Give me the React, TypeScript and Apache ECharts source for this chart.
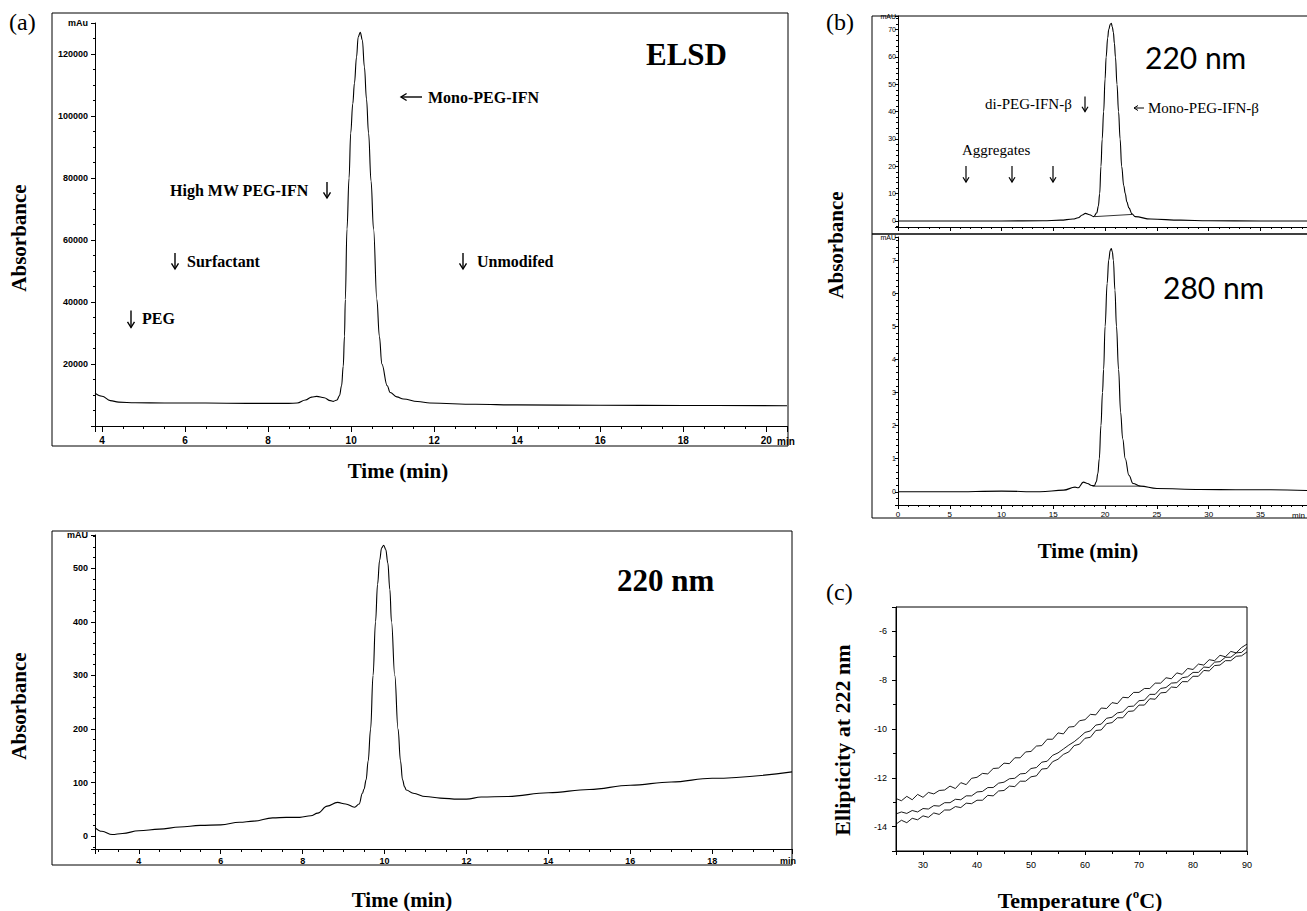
import React, { useEffect, useRef } from "react";
import * as echarts from "echarts";

// ---------- Panel (a) top: ELSD ----------
const elsdTime = [3.83, 4.0, 4.2, 4.4, 4.8, 5.5, 6.5, 7.5, 8.5, 8.7, 8.9, 9.05, 9.17, 9.35, 9.5, 9.57, 9.66, 9.72, 9.77, 9.81, 9.84, 9.86, 9.9, 9.95, 9.99, 10.04, 10.08, 10.13, 10.17, 10.22, 10.27, 10.32, 10.37, 10.42, 10.48, 10.54, 10.62, 10.68, 10.74, 10.87, 10.94, 11.1, 11.26, 11.6, 11.9, 13.0, 14.0, 16.0, 18.0, 20.5];
const elsdSignal = [10600, 9600, 8200, 7700, 7500, 7400, 7400, 7300, 7300, 7400, 8400, 9300, 9560, 9100, 8200, 7950, 8400, 9800, 13000, 19300, 29000, 40800, 63500, 80000, 94500, 104000, 110600, 119000, 125500, 127000, 124500, 115800, 105500, 94500, 79000, 63500, 40800, 29000, 20000, 13000, 10800, 9400, 8700, 7900, 7400, 7000, 6800, 6700, 6600, 6550];

// ---------- Panel (a) bottom: 220 nm ----------
const uvTime = [2.93, 3.1, 3.35, 3.6, 4.0, 4.5, 5.0, 5.5, 6.0, 6.46, 6.8, 7.27, 7.6, 7.93, 8.2, 8.37, 8.6, 8.85, 9.05, 9.27, 9.38, 9.46, 9.5, 9.55, 9.6, 9.66, 9.72, 9.78, 9.83, 9.88, 9.93, 9.98, 10.03, 10.08, 10.13, 10.17, 10.25, 10.33, 10.39, 10.44, 10.49, 10.53, 10.7, 11.0, 11.36, 11.8, 12.0, 12.36, 13.0, 14.0, 15.0, 16.0, 17.0, 18.0, 19.95];
const uvSignal = [16, 9, 3, 5, 10, 13, 17, 20, 21, 26, 28, 34, 35, 35, 38, 43, 56, 63, 60, 54, 60, 80, 88, 105, 140, 200, 300, 400, 470, 515, 538, 543, 535, 510, 460, 400, 300, 200, 140, 105, 92, 86, 80, 74, 71, 69, 69, 73, 74, 81, 87, 95, 101, 108, 120];

// ---------- Panel (b) top: 220 nm ----------
const b220Time = [0, 5, 10, 14, 15.7, 16.9, 17.4, 17.8, 18.1, 18.5, 18.9, 19.2, 19.35, 19.48, 19.6, 19.72, 19.86, 20.0, 20.1, 20.25, 20.35, 20.5, 20.6, 20.7, 20.8, 20.9, 21.0, 21.15, 21.3, 21.45, 21.6, 21.8, 21.95, 22.1, 22.3, 22.6, 22.9, 24.4, 27.3, 30, 35, 39.5];
const b220Signal = [0, 0, 0, 0.1, 0.3, 0.7, 1.2, 2.2, 2.8, 2.3, 1.6, 3, 5.5, 10, 20, 30, 40, 52, 60, 67, 70, 72, 72.3, 71, 69, 65, 60, 50, 40, 30, 20, 13, 10, 7, 4.8, 2.6, 1.6, 0.7, 0.3, 0.1, 0, 0];
const b220BaseTime = [19.0, 22.6];
const b220BaseSignal = [1.6, 2.4];

// ---------- Panel (b) bottom: 280 nm ----------
const b280Time = [0, 5, 10, 13.7, 16, 17.1, 17.4, 17.9, 18.3, 18.7, 18.95, 19.15, 19.3, 19.44, 19.6, 19.75, 19.86, 20.0, 20.2, 20.35, 20.5, 20.6, 20.7, 20.8, 20.95, 21.1, 21.3, 21.5, 21.7, 21.95, 22.3, 22.7, 23.4, 25, 29.2, 33, 36, 39.5];
const b280Signal = [0, 0, 0.02, 0, 0.05, 0.14, 0.12, 0.29, 0.25, 0.19, 0.18, 0.3, 0.55, 1, 2, 3, 3.7, 5, 6.3, 7, 7.3, 7.35, 7.25, 7, 6.1, 5, 3.7, 2.4, 1.6, 1, 0.5, 0.25, 0.17, 0.1, 0.07, 0.06, 0.06, 0.04];
const b280BaseTime = [18.8, 23.4];
const b280BaseSignal = [0.17, 0.17];

// ---------- Panel (c): CD melting ----------
const cdTemp = [25, 26, 27, 28, 29, 30, 31, 32, 33, 34, 35, 36, 37, 38, 39, 40, 41, 42, 43, 44, 45, 46, 47, 48, 49, 50, 51, 52, 53, 54, 55, 56, 57, 58, 59, 60, 61, 62, 63, 64, 65, 66, 67, 68, 69, 70, 71, 72, 73, 74, 75, 76, 77, 78, 79, 80, 81, 82, 83, 84, 85, 86, 87, 88, 89, 90];
const cdRun1 = [-12.85, -12.94, -12.76, -12.9, -12.68, -12.8, -12.6, -12.66, -12.52, -12.5, -12.34, -12.44, -12.2, -12.28, -12.02, -11.98, -11.82, -11.84, -11.62, -11.6, -11.4, -11.42, -11.18, -11.18, -10.94, -10.92, -10.7, -10.68, -10.42, -10.42, -10.16, -10.2, -9.92, -9.9, -9.66, -9.62, -9.4, -9.42, -9.14, -9.16, -8.92, -8.96, -8.7, -8.72, -8.5, -8.5, -8.34, -8.34, -8.12, -8.12, -7.9, -7.94, -7.7, -7.76, -7.52, -7.56, -7.34, -7.38, -7.16, -7.2, -6.98, -7.04, -6.82, -6.88, -6.66, -6.52];
const cdRun2 = [-13.48, -13.4, -13.46, -13.34, -13.4, -13.26, -13.28, -13.14, -13.16, -13.02, -13.02, -12.88, -12.9, -12.74, -12.74, -12.58, -12.56, -12.4, -12.4, -12.22, -12.18, -12.04, -12.02, -11.84, -11.82, -11.62, -11.58, -11.36, -11.32, -11.08, -10.98, -10.82, -10.66, -10.52, -10.34, -10.14, -10.08, -9.84, -9.8, -9.56, -9.52, -9.34, -9.3, -9.08, -9.06, -8.84, -8.82, -8.58, -8.58, -8.34, -8.3, -8.12, -8.1, -7.9, -7.86, -7.68, -7.68, -7.46, -7.48, -7.26, -7.24, -7.06, -7.06, -6.88, -6.86, -6.66];
const cdRun3 = [-13.9, -13.74, -13.84, -13.66, -13.72, -13.56, -13.62, -13.44, -13.5, -13.32, -13.32, -13.18, -13.22, -13.04, -13.06, -12.92, -12.92, -12.72, -12.74, -12.54, -12.52, -12.34, -12.36, -12.14, -12.14, -11.96, -11.92, -11.64, -11.62, -11.34, -11.24, -11.04, -10.94, -10.68, -10.62, -10.38, -10.34, -10.06, -10.04, -9.78, -9.74, -9.54, -9.54, -9.28, -9.26, -9.02, -9.02, -8.76, -8.78, -8.52, -8.5, -8.28, -8.3, -8.06, -8.06, -7.84, -7.84, -7.6, -7.62, -7.4, -7.38, -7.2, -7.2, -7.02, -7.0, -6.84];

const zip = (xs: number[], ys: number[]) => xs.map((x, i) => [x, ys[i]]);

const SERIF = '"Liberation Serif", "Times New Roman", serif';
const NARROW = '"Liberation Sans Narrow", "Liberation Sans", Arial, sans-serif';
const SANS = '"Liberation Sans", Arial, sans-serif';

function axis(extra: any) {
  const base: any = {
    type: "value",
    axisLine: { show: true, onZero: false, lineStyle: { color: "#000", width: 1 } },
    axisTick: { show: true, lineStyle: { color: "#000", width: 1 } },
    minorTick: { show: true, lineStyle: { color: "#000", width: 1 } },
    splitLine: { show: false },
    minorSplitLine: { show: false },
    axisLabel: { color: "#000" },
  };
  const out: any = { ...base, ...extra };
  out.axisLine = { ...base.axisLine, ...(extra.axisLine || {}) };
  out.axisTick = { ...base.axisTick, ...(extra.axisTick || {}) };
  out.minorTick = { ...base.minorTick, ...(extra.minorTick || {}) };
  out.axisLabel = { ...base.axisLabel, ...(extra.axisLabel || {}) };
  return out;
}

function txt(text: string, x: number, y: number, font: string, align = "left", rotation = 0) {
  return {
    type: "text",
    x,
    y,
    rotation,
    z: 100,
    style: {
      text,
      font,
      fill: "#000",
      align,
      verticalAlign: "middle",
      textAlign: align,
      textVerticalAlign: "middle",
    },
  };
}

function frame(x: number, y: number, w: number, h: number) {
  return {
    type: "rect",
    shape: { x, y, width: w, height: h },
    style: { fill: "none", stroke: "#000", lineWidth: 1 },
    z: 90,
  };
}

function line(x1: number, y1: number, x2: number, y2: number, w = 1) {
  return {
    type: "line",
    shape: { x1, y1, x2, y2 },
    style: { stroke: "#000", lineWidth: w },
    z: 90,
  };
}

// drawn arrow glyphs (shaft + open head)
function downArrow(x: number, y: number, len = 16, head = 3.5, w = 1.3) {
  return {
    type: "group",
    children: [
      { type: "line", shape: { x1: x, y1: y - len / 2, x2: x, y2: y + len / 2 }, style: { stroke: "#000", lineWidth: w } },
      {
        type: "polyline",
        shape: { points: [[x - head, y + len / 2 - head * 1.6], [x, y + len / 2], [x + head, y + len / 2 - head * 1.6]] },
        style: { stroke: "#000", lineWidth: w, fill: "none" },
      },
    ],
    z: 100,
  };
}

function leftArrow(x: number, y: number, len = 20, head = 3.5, w = 1.3) {
  return {
    type: "group",
    children: [
      { type: "line", shape: { x1: x, y1: y, x2: x + len, y2: y }, style: { stroke: "#000", lineWidth: w } },
      {
        type: "polyline",
        shape: { points: [[x + head * 1.6, y - head], [x, y], [x + head * 1.6, y + head]] },
        style: { stroke: "#000", lineWidth: w, fill: "none" },
      },
    ],
    z: 100,
  };
}

const lineSeries = (data: number[][], xi: number, width = 1.1, smooth: any = 0.4) => ({
  type: "line",
  xAxisIndex: xi,
  yAxisIndex: xi,
  data,
  showSymbol: false,
  symbol: "none",
  smooth,
  smoothMonotone: "x",
  lineStyle: { color: "#000", width },
  silent: true,
});

export default function App() {
  const ref = useRef<HTMLDivElement>(null);
  useEffect(() => {
    document.body.style.margin = "0";
    document.body.style.overflow = "hidden";
    if (!ref.current) return;
    const chart = echarts.init(ref.current, undefined, { renderer: "svg" });

    const aLabel = { fontFamily: NARROW, fontWeight: "bold", fontSize: 10 };
    const bLabel = { fontFamily: SANS, fontSize: 7 };
    const cLabel = { fontFamily: SANS, fontSize: 9 };

    const option: any = {
      animation: false,
      backgroundColor: "#fff",
      grid: [
        { left: 95, top: 23, width: 692, height: 403 },
        { left: 95, top: 535, width: 697, height: 314 },
        { left: 898, top: 16, width: 409, height: 211 },
        { left: 898, top: 237, width: 409, height: 268 },
        { left: 896, top: 607, width: 351, height: 244, show: true, borderColor: "#000", borderWidth: 1, backgroundColor: "transparent" },
      ],
      xAxis: [
        axis({
          gridIndex: 0, min: 3.83, max: 20.5, splitNumber: 8,
          axisTick: { length: 6 }, minorTick: { splitNumber: 4, length: 3 },
          axisLabel: { ...aLabel, margin: 9, showMinLabel: false, showMaxLabel: false },
        }),
        axis({
          gridIndex: 1, min: 2.93, max: 19.95, splitNumber: 8,
          axisTick: { length: 5 }, minorTick: { splitNumber: 4, length: 3 },
          axisLabel: { ...aLabel, fontSize: 9, margin: 7, showMinLabel: false, showMaxLabel: false },
        }),
        axis({
          gridIndex: 2, min: 0, max: 39.5, splitNumber: 8,
          axisTick: { length: 4 }, minorTick: { splitNumber: 5, length: 2 },
          axisLabel: { show: false },
        }),
        axis({
          gridIndex: 3, min: 0, max: 39.5, splitNumber: 8,
          axisTick: { length: 4 }, minorTick: { splitNumber: 5, length: 2 },
          axisLabel: { ...bLabel, fontSize: 8, margin: 5, showMinLabel: true, showMaxLabel: false },
        }),
        axis({
          gridIndex: 4, min: 25, max: 90, splitNumber: 7,
          axisTick: { length: 4 }, minorTick: { splitNumber: 2, length: 3 },
          axisLabel: { ...cLabel, margin: 9, showMinLabel: false, showMaxLabel: true },
        }),
      ],
      yAxis: [
        axis({
          gridIndex: 0, min: 0, max: 130000, splitNumber: 6,
          axisTick: { length: 4 }, minorTick: { splitNumber: 4, length: 2 },
          axisLabel: {
            ...aLabel, fontSize: 9, margin: 7, showMinLabel: false, showMaxLabel: true,
            formatter: (v: number) => (v >= 130000 ? "mAu" : v <= 0 ? "" : String(v)),
          },
        }),
        axis({
          gridIndex: 1, min: -24, max: 562, splitNumber: 6,
          axisTick: { length: 4 }, minorTick: { splitNumber: 5, length: 2 },
          axisLabel: {
            ...aLabel, fontSize: 9, margin: 7, showMinLabel: false, showMaxLabel: true,
            formatter: (v: number) => (v >= 562 ? "mAU" : String(v)),
          },
        }),
        axis({
          gridIndex: 2, min: -2.2, max: 75, splitNumber: 8,
          axisTick: { length: 3 }, minorTick: { splitNumber: 5, length: 2 },
          axisLabel: {
            ...bLabel, margin: 2, showMinLabel: false, showMaxLabel: true,
            formatter: (v: number) => (v >= 75 ? "mAU" : String(v)),
          },
        }),
        axis({
          gridIndex: 3, min: -0.4, max: 7.7, splitNumber: 8,
          axisTick: { length: 3 }, minorTick: { splitNumber: 5, length: 2 },
          axisLabel: {
            ...bLabel, margin: 2, showMinLabel: false, showMaxLabel: true,
            formatter: (v: number) => (v >= 7.7 ? "mAU" : String(v)),
          },
        }),
        axis({
          gridIndex: 4, min: -15, max: -5, splitNumber: 5,
          axisTick: { length: 4 }, minorTick: { splitNumber: 2, length: 3 },
          axisLabel: { ...cLabel, margin: 9, showMinLabel: false, showMaxLabel: false },
        }),
      ],
      series: [
        lineSeries(zip(elsdTime, elsdSignal), 0, 1.1),
        lineSeries(zip(uvTime, uvSignal), 1, 1.1),
        lineSeries(zip(b220Time, b220Signal), 2, 1.1),
        lineSeries(zip(b220BaseTime, b220BaseSignal), 2, 0.8, false),
        lineSeries(zip(b280Time, b280Signal), 3, 1.1),
        lineSeries(zip(b280BaseTime, b280BaseSignal), 3, 0.8, false),
        lineSeries(zip(cdTemp, cdRun1), 4, 0.9, false),
        lineSeries(zip(cdTemp, cdRun2), 4, 0.9, false),
        lineSeries(zip(cdTemp, cdRun3), 4, 0.9, false),
      ],
      graphic: [
        // frames
        frame(52, 13, 736, 433),
        frame(52, 531, 740, 334),
        frame(872, 16, 450, 502),
        line(872, 234, 1307, 234, 1.5),
        // panel (a) top
        txt("(a)", 9, 22, `24px ${SERIF}`),
        txt("ELSD", 646, 54, `bold 31px ${SERIF}`),
        leftArrow(401, 97, 21, 3.5, 1.4),
        txt("Mono-PEG-IFN", 428, 97, `bold 16px ${SERIF}`),
        txt("High MW PEG-IFN", 170, 190, `bold 16px ${SERIF}`),
        downArrow(327, 190, 16, 3.5, 1.4),
        downArrow(175, 261, 16, 3.5, 1.4),
        txt("Surfactant", 187, 261, `bold 16px ${SERIF}`),
        downArrow(131, 319, 17, 3.5, 1.4),
        txt("PEG", 142, 318, `bold 16px ${SERIF}`),
        downArrow(463, 261, 16, 3.5, 1.4),
        txt("Unmodifed", 477, 261, `bold 16px ${SERIF}`),
        txt("min", 777, 441, `bold 10px ${NARROW}`),
        txt("Absorbance", 19, 238, `bold 21px ${SERIF}`, "center", Math.PI / 2),
        txt("Time (min)", 398, 471, `bold 21px ${SERIF}`, "center"),
        // panel (a) bottom
        txt("220 nm", 617, 580, `bold 31px ${SERIF}`),
        txt("min", 780, 861, `bold 9px ${NARROW}`),
        txt("Absorbance", 19, 706, `bold 21px ${SERIF}`, "center", Math.PI / 2),
        txt("Time (min)", 402, 900, `bold 21px ${SERIF}`, "center"),
        // panel (b)
        txt("(b)", 826, 22, `24px ${SERIF}`),
        txt("220 nm", 1145, 57, `30px Lato, "Open Sans", sans-serif`),
        txt("di-PEG-IFN-β", 985, 104, `15px ${SERIF}`),
        downArrow(1085, 104, 15, 3, 1.2),
        leftArrow(1134, 108, 10, 2.5, 1),
        txt("Mono-PEG-IFN-β", 1148, 108, `15px ${SERIF}`),
        txt("Aggregates", 962, 150, `15px ${SERIF}`),
        downArrow(966, 174, 16, 3, 1.2),
        downArrow(1012, 174, 16, 3, 1.2),
        downArrow(1053, 174, 16, 3, 1.2),
        txt("280 nm", 1163, 287, `30px Lato, "Open Sans", sans-serif`),
        txt("min", 1305, 515, `8px ${SANS}`, "right"),
        txt("Absorbance", 836, 245, `bold 21px ${SERIF}`, "center", Math.PI / 2),
        txt("Time (min)", 1088, 551, `bold 21px ${SERIF}`, "center"),
        // panel (c)
        txt("(c)", 826, 592, `24px ${SERIF}`),
        txt("Ellipticity at 222 nm", 842, 740, `bold 22px ${SERIF}`, "center", Math.PI / 2),
        {
          type: "text",
          x: 1080,
          y: 900,
          z: 100,
          style: {
            text: "{n|Temperature (}{s|o}{n|C)}",
            fill: "#000",
            align: "center",
            verticalAlign: "middle",
            textAlign: "center",
            textVerticalAlign: "middle",
            rich: {
              n: { fontFamily: SERIF, fontWeight: "bold", fontSize: 22, lineHeight: 26, fill: "#000" },
              s: { fontFamily: SERIF, fontWeight: "bold", fontSize: 13, lineHeight: 14, verticalAlign: "top", fill: "#000" },
            },
          },
        },
      ],
    };
    chart.setOption(option);
    return () => chart.dispose();
  }, []);
  return <div ref={ref} style={{ width: 1307, height: 911 }} />;
}
